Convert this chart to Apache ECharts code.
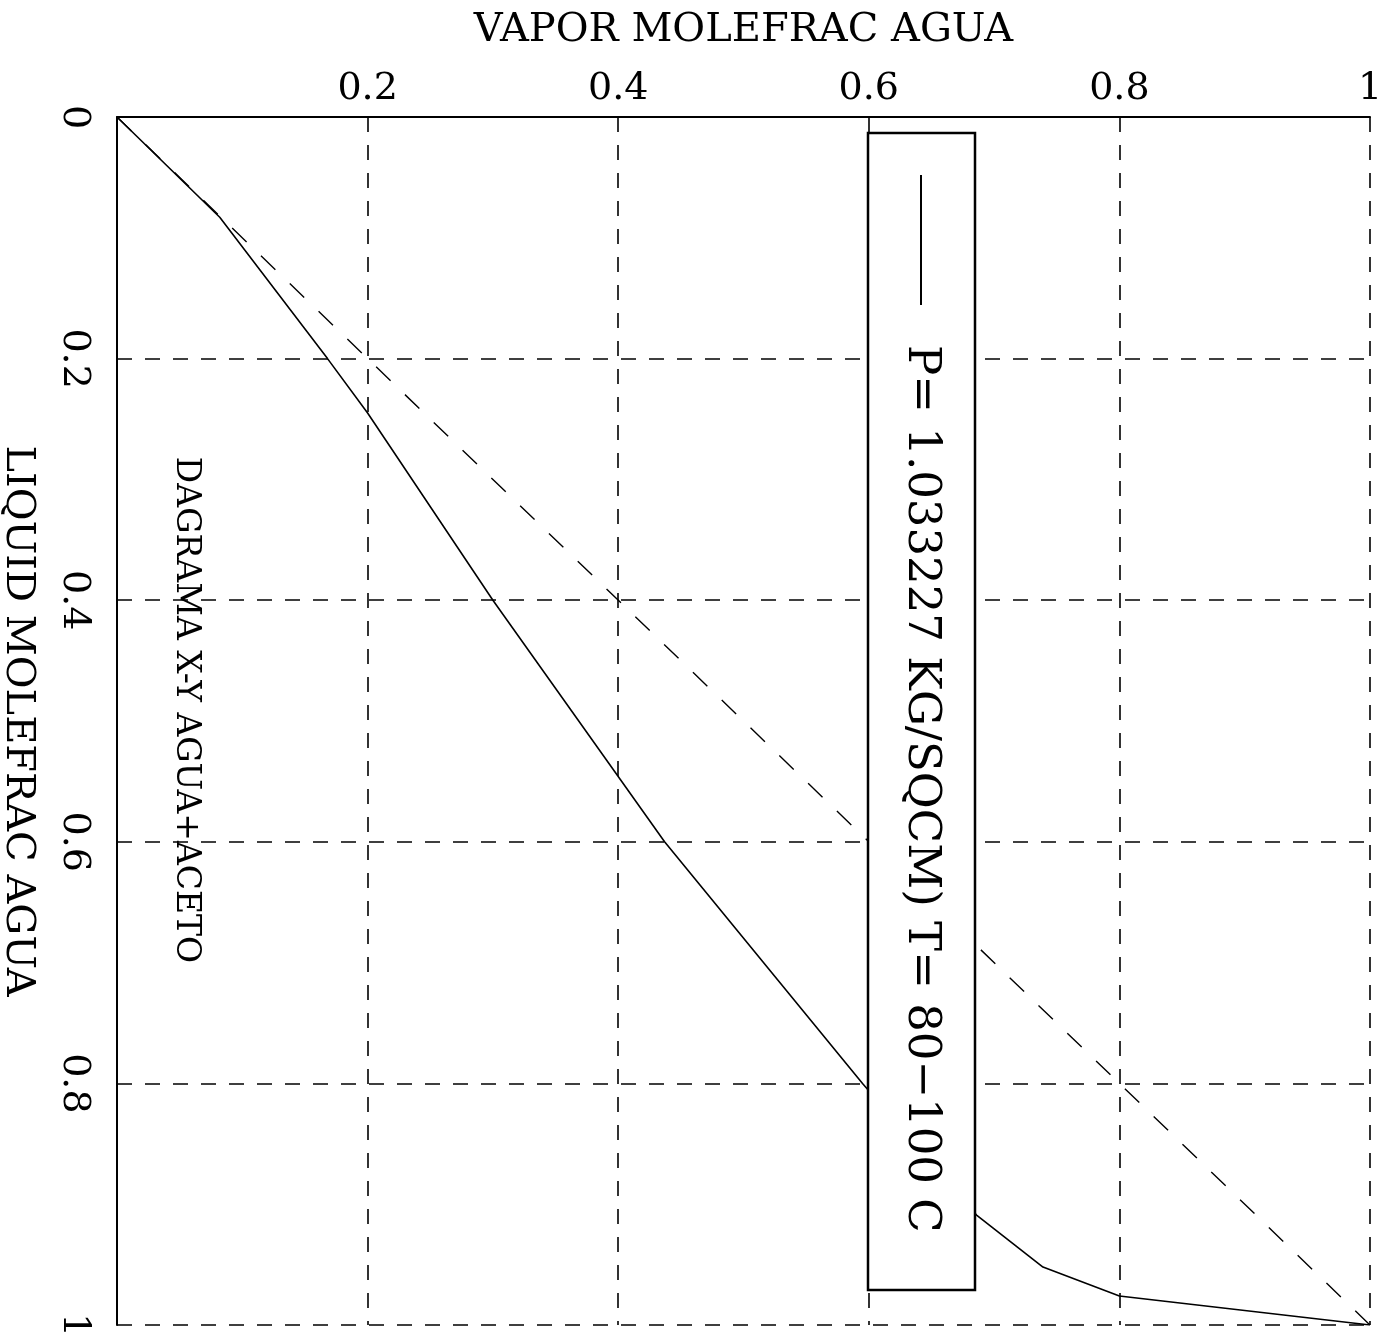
<!DOCTYPE html>
<html>
<head>
<meta charset="utf-8">
<script src="https://cdn.jsdelivr.net/npm/echarts@6/dist/echarts.min.js"></script>
<style>
html,body{margin:0;padding:0;background:#fff;}
#chart{width:1383px;height:1333px;}
</style>
</head>
<body>
<div id="chart"></div>
<script>
// Vapor mole fraction (x, top axis) vs liquid mole fraction (y, left axis, downward)
var vaporX  = [0, 0.082, 0.168, 0.2, 0.3, 0.4, 0.437, 0.595, 0.686, 0.739, 0.8, 1];
var liquidY = [0, 0.083, 0.2, 0.245, 0.4, 0.546, 0.6, 0.8, 0.909, 0.952, 0.976, 1];
var diagX = [0, 1];
var diagY = [0, 1];
var tickValues = [0, 0.2, 0.4, 0.6, 0.8, 1];
var xTitle = 'VAPOR MOLEFRAC AGUA';
var yTitle = 'LIQUID MOLEFRAC AGUA';
var chartTitle = 'DAGRAMA X-Y AGUA+ACETO';
var legendText = 'P= 1.033227 KG/SQCM) T= 80\u2212100 C';

var FONT = 'DejaVu Serif';
function fmt(v){ return String(Math.round(v*10)/10); }

var chart = echarts.init(document.getElementById('chart'));
var curve = vaporX.map(function(x,i){ return [x, liquidY[i]]; });
var diag = diagX.map(function(x,i){ return [x, diagY[i]]; });

var gridLine = {show:true, lineStyle:{color:'#000', width:1.6, type:[15,13]}};

chart.setOption({
  backgroundColor:'#fff',
  animation:false,
  grid:{left:117, right:13, top:117, bottom:8, containLabel:false, outerBoundsMode:'none'},
  xAxis:{
    type:'value', position:'top', min:0, max:1, interval:0.2,
    name:xTitle, nameLocation:'middle', nameGap:66,
    nameTextStyle:{fontFamily:FONT, fontSize:40, color:'#000'},
    axisLine:{show:true, lineStyle:{color:'#000', width:2}},
    axisTick:{show:false},
    axisLabel:{fontFamily:FONT, fontSize:38, color:'#000', margin:9,
      formatter:function(v){ return v===0 ? '' : fmt(v); }},
    splitLine:gridLine
  },
  yAxis:{
    type:'value', inverse:true, min:0, max:1, interval:0.2,
    name:yTitle, nameLocation:'middle', nameGap:80, nameRotate:-90,
    nameTextStyle:{fontFamily:FONT, fontSize:40, color:'#000'},
    axisLine:{show:true, lineStyle:{color:'#000', width:2}},
    axisTick:{show:false},
    axisLabel:{fontFamily:FONT, fontSize:38, color:'#000', rotate:-90, margin:24,
      formatter:function(v){ return fmt(v); }},
    splitLine:gridLine
  },
  series:[
    {type:'line', data:diag, symbol:'none', lineStyle:{color:'#000', width:1.4, type:[20,20]}, z:2},
    {type:'line', data:curve, symbol:'none', lineStyle:{color:'#000', width:1.6}, z:3}
  ],
  graphic:[
    {type:'rect', z:100, shape:{x:868, y:133, width:107, height:1157},
      style:{fill:'#fff', stroke:'#000', lineWidth:2.5}},
    {type:'line', z:101, shape:{x1:921, y1:175, x2:921, y2:305},
      style:{stroke:'#000', lineWidth:2}},
    {type:'text', z:101, x:921, y:345, rotation:-Math.PI/2,
      style:{text:legendText, font:'45px "DejaVu Serif"', fill:'#000', align:'left', verticalAlign:'middle'}},
    {type:'text', z:101, x:186, y:710, rotation:-Math.PI/2,
      style:{text:chartTitle, font:'33px "DejaVu Serif"', fill:'#000', align:'center', verticalAlign:'middle'}}
  ]
});
</script>
</body>
</html>
